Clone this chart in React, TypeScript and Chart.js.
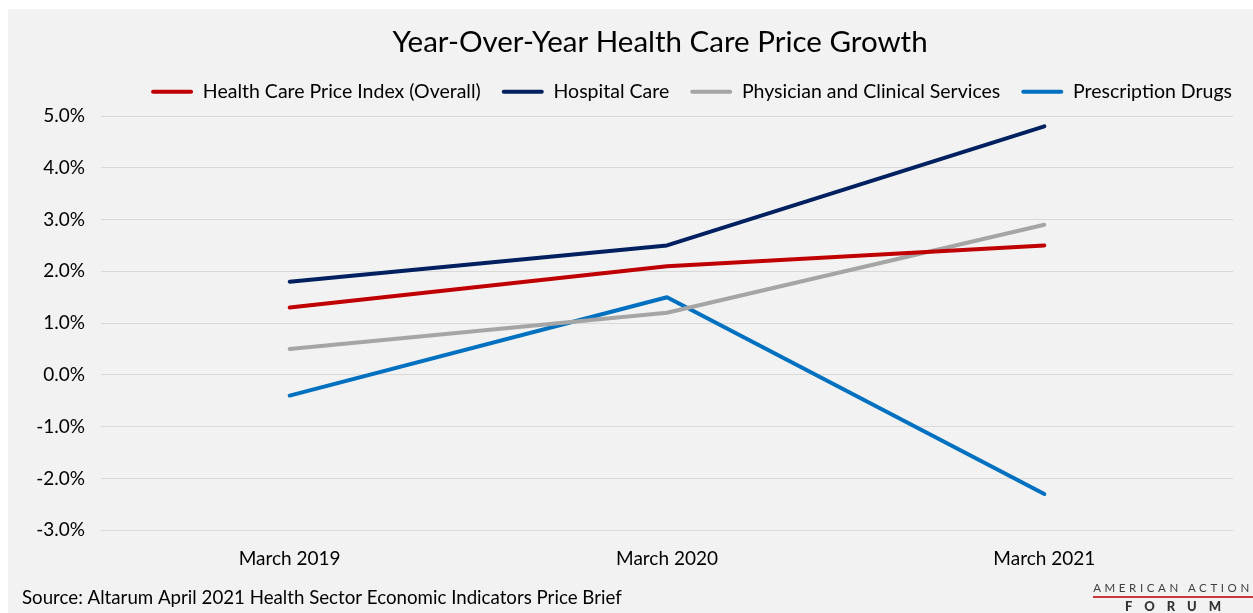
import React, { useEffect, useRef } from "react";
import { Chart, registerables } from "chart.js";

Chart.register(...registerables);

const categories = ["March 2019", "March 2020", "March 2021"];
const overall = [1.3, 2.1, 2.5];
const hospital = [1.8, 2.5, 4.8];
const physician = [0.5, 1.2, 2.9];
const drugs = [-0.4, 1.5, -2.3];
const seriesNames = [
  "Health Care Price Index (Overall)",
  "Hospital Care",
  "Physician and Clinical Services",
  "Prescription Drugs",
];
const seriesColors = ["#c00000", "#002060", "#a5a5a5", "#0070c0"];
const titleText = "Year-Over-Year Health Care Price Growth";
const sourceText = "Source: Altarum April 2021 Health Sector Economic Indicators Price Brief";
const yMin = -3;
const yMax = 5;

const FONT = "Lato, 'Noto Sans', sans-serif";

const textPlugin = {
  id: "textPlugin",
  afterDraw(chart: any) {
    const { ctx, chartArea } = chart;
    ctx.save();
    ctx.fillStyle = "#000";
    ctx.font = `29.5px ${FONT}`;
    ctx.textAlign = "center";
    ctx.textBaseline = "middle";
    ctx.fillText(titleText, (chartArea.left + chartArea.right) / 2 - 7, 33);
    ctx.font = `18.7px ${FONT}`;
    ctx.textAlign = "left";
    ctx.fillText(sourceText, 14, 589);
    ctx.restore();
  },
};

export default function App() {
  const ref = useRef<HTMLCanvasElement>(null);
  useEffect(() => {
    if (!ref.current) return;
    const data = [overall, hospital, physician, drugs];
    const chart = new Chart(ref.current, {
      type: "line",
      data: {
        labels: categories,
        datasets: data.map((d, i) => ({
          label: seriesNames[i],
          data: d,
          borderColor: seriesColors[i],
          backgroundColor: seriesColors[i],
          borderWidth: 4,
          pointRadius: 0,
          tension: 0,
          borderCapStyle: "round" as const,
          borderJoinStyle: "round" as const,
        })),
      },
      options: {
        animation: false,
        responsive: true,
        maintainAspectRatio: false,
        layout: { padding: { top: 52, left: 0, right: 0, bottom: 26 } },
        plugins: {
          title: { display: false },
          tooltip: { enabled: false },
          legend: {
            display: true,
            position: "top",
            align: "end",
            labels: {
              boxWidth: 42,
              boxHeight: 4,
              padding: 21,
              color: "#000",
              font: { family: FONT, size: 19.5 },
              generateLabels: (c: any) =>
                c.data.datasets.map((ds: any, i: number) => ({
                  text: ds.label,
                  fillStyle: ds.borderColor,
                  strokeStyle: ds.borderColor,
                  lineWidth: 0,
                  borderRadius: 2,
                  datasetIndex: i,
                  hidden: false,
                })),
            },
          },
        },
        scales: {
          x: {
            type: "category",
            offset: true,
            grid: { display: false, drawTicks: false },
            border: { display: false },
            ticks: { color: "#000", padding: 17, font: { family: FONT, size: 19 } },
          },
          xTop: {
            type: "category",
            position: "top",
            display: true,
            grid: { display: false, drawTicks: false },
            border: { display: false },
            ticks: { display: false },
            afterFit: (s: any) => {
              s.height = 4.5;
            },
          },
          y: {
            min: yMin,
            max: yMax,
            ticks: {
              stepSize: 1,
              color: "#000",
              padding: 16,
              font: { family: FONT, size: 19 },
              callback: (v: any) => Number(v).toFixed(1) + "%",
            },
            grid: { color: "#d9d9d9", lineWidth: 1, drawTicks: false },
            border: { display: false },
            afterFit: (s: any) => {
              s.width = 93;
            },
          },
          yRight: {
            position: "right",
            display: true,
            grid: { display: false, drawTicks: false },
            border: { display: false },
            ticks: { display: false },
            afterFit: (s: any) => {
              s.width = 20;
            },
          },
        },
      },
      plugins: [textPlugin],
    });
    return () => chart.destroy();
  }, []);

  return (
    <div
      style={{
        position: "absolute",
        left: 8,
        top: 9,
        width: 1245,
        height: 604,
        background: "#f2f2f2",
        overflow: "hidden",
      }}
    >
      <canvas ref={ref} style={{ position: "absolute", left: 0, top: 0, width: 1245, height: 604 }} />
      <div
        style={{
          position: "absolute",
          left: 1085,
          top: 572,
          width: 160,
          fontFamily: FONT,
          color: "#404040",
          textAlign: "center",
        }}
      >
        <div style={{ fontSize: 11.5, letterSpacing: 3.6, lineHeight: "13px", whiteSpace: "nowrap" }}>
          AMERICAN ACTION
        </div>
        <div style={{ height: 2, background: "#c8373a", margin: "2px 0 2px 0" }} />
        <div style={{ fontSize: 13, fontWeight: 900, letterSpacing: 12, lineHeight: "13px", color: "#333", paddingLeft: 12 }}>
          FORUM
        </div>
      </div>
    </div>
  );
}
